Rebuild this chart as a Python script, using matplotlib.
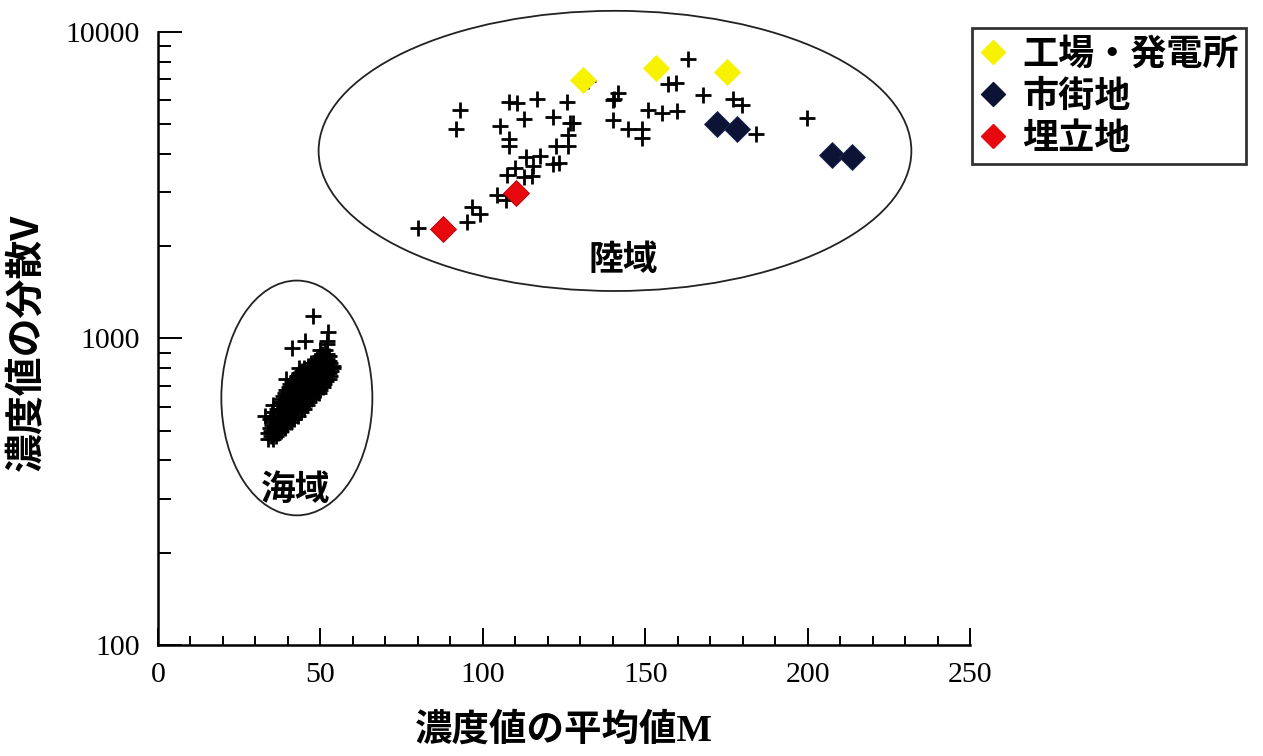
import numpy as np
import matplotlib
matplotlib.use("Agg")
import matplotlib.pyplot as plt
from matplotlib.patches import Ellipse
from matplotlib.lines import Line2D

plt.rcParams['font.family'] = ['Noto Sans CJK JP', 'DejaVu Sans']

# 陸域の点 (濃度値の平均値M, 分散V)
land_m = [92.9, 91.7, 108.0, 110.5, 116.6, 125.8, 105.2, 112.6, 121.5, 126.8,
          127.7, 108.0, 108.0, 126.2, 122.5, 126.2, 113.2, 117.5, 115.4, 121.5,
          123.4, 107.4, 109.8, 112.6, 115.1, 104.3, 107.1, 96.6, 99.1, 95.1,
          80.0, 140.0, 140.0, 163.1, 156.9, 159.4, 141.5, 140.3, 167.7, 176.9,
          179.7, 150.8, 155.1, 159.7, 144.6, 148.9, 148.9, 184.0, 199.7, 132.5]
land_v = [5570, 4830, 5910, 5870, 6050, 5910, 4940, 5200, 5280, 5050,
          5050, 4480, 4250, 4610, 4250, 4250, 3910, 3940, 3650, 3710,
          3740, 3410, 3600, 3360, 3390, 2940, 2830, 2690, 2550, 2400,
          2290, 6000, 5160, 8170, 6770, 6820, 6320, 6050, 6230, 6050,
          5780, 5570, 5440, 5530, 4830, 4830, 4510, 4650, 5240, 6900]

# 海域の点: 分散Vの段ごとに平均値Mを並べたもの
sea_rows_v = [470, 480, 490, 500, 510, 522, 535, 547, 560, 575,
              590, 605, 620, 635, 650, 665, 680, 695, 710, 725,
              740, 755, 770, 785, 800, 815, 830, 845, 860, 875,
              890, 920, 960, 1180, 1050, 985, 930, 985]
sea_rows_m = [[34, 35.5],
              [34.8, 36.2],
              [34, 35.5, 37],
              [34.8, 36.2, 37.8],
              [34.5, 36, 37.5, 39],
              [35.2, 36.8, 38.2, 39.8],
              [35, 36.5, 38, 39.5, 41],
              [34.5, 35.8, 37.2, 38.8, 40.2, 41.8],
              [33, 35.5, 37, 38.5, 40, 41.5, 43],
              [35.2, 36.8, 38.2, 39.8, 41.2, 42.8, 44],
              [36.5, 38, 39.5, 41, 42.5, 44, 45],
              [35.5, 37.2, 38.8, 40.2, 41.8, 43.2, 44.8, 46],
              [37.5, 39, 40.5, 42, 43.5, 45, 46.5],
              [38.2, 39.8, 41.2, 42.8, 44.2, 45.8, 47.2],
              [38.5, 40, 41.5, 43, 44.5, 46, 47.5],
              [39.2, 40.8, 42.2, 43.8, 45.2, 46.8, 48.2, 49.5],
              [39.5, 41, 42.5, 44, 45.5, 47, 48.5, 50],
              [40.2, 41.8, 43.2, 44.8, 46.2, 47.8, 49.2, 50.8],
              [40.5, 42, 43.5, 45, 46.5, 48, 49.5, 51],
              [41.2, 42.8, 44.2, 45.8, 47.2, 48.8, 50.2, 51.8],
              [39.5, 42, 43.5, 45, 46.5, 48, 49.5, 51, 52.5],
              [42.8, 44.2, 45.8, 47.2, 48.8, 50.2, 51.8, 53],
              [43.5, 45, 46.5, 48, 49.5, 51, 52.5],
              [44.2, 45.8, 47.2, 48.8, 50.2, 51.8, 53.2],
              [43.5, 45, 46.5, 48, 49.5, 51, 52.5, 54],
              [46.2, 47.8, 49.2, 50.8, 52.2, 53.8],
              [47, 48.5, 50, 51.5, 53],
              [48.2, 49.8, 51.2, 52.8],
              [49, 50.5, 52],
              [49.8, 51.2, 52.8],
              [50.5, 52],
              [50, 51.5],
              [52],
              [47.7], [52.3], [45.2], [41.2], [52.0]]
sea_m = [m for row in sea_rows_m for m in row]
sea_v = [v for v, row in zip(sea_rows_v, sea_rows_m) for m in row]

# 工場・発電所, 市街地, 埋立地
factory_m = [130.8, 153.2, 175.1]
factory_v = [6970, 7630, 7400]
urban_m = [172.0, 178.2, 207.4, 213.8]
urban_v = [5010, 4830, 3970, 3910]
landfill_m = [87.7, 110.2]
landfill_v = [2280, 2980]

legend_labels = ['工場・発電所', '市街地', '埋立地']
colors = ['#f7f200', '#0c1334', '#e8090f']

fig = plt.figure(figsize=(12.63, 7.56), dpi=100)
ax = fig.add_axes([0.1251, 0.1468, 0.6429, 0.8109])

plus_kw = dict(marker='+', linestyle='none', color='black', markersize=11, markeredgewidth=2.0)
ax.plot(land_m, land_v, **plus_kw)
ax.plot(sea_m, sea_v, **plus_kw)

dia_kw = dict(marker='D', linestyle='none', markersize=13.5, markeredgewidth=0.6)
ax.plot(factory_m, factory_v, color=colors[0], markeredgecolor=colors[0], **dia_kw)
ax.plot(urban_m, urban_v, color=colors[1], markeredgecolor='#1b2a55', **dia_kw)
ax.plot(landfill_m, landfill_v, color=colors[2], markeredgecolor='#b00008', **dia_kw)

ax.set_yscale('log')
ax.set_xlim(0, 250)
ax.set_ylim(100, 10000)
ax.set_xticks([0, 50, 100, 150, 200, 250])
ax.set_xticks(np.arange(0, 251, 10), minor=True)
ax.set_yticks([100, 1000, 10000])
ax.set_yticklabels(['100', '1000', '10000'])

for s in ['top', 'right']:
    ax.spines[s].set_visible(False)
for s in ['left', 'bottom']:
    ax.spines[s].set_linewidth(1.8)

ax.tick_params(axis='x', which='major', direction='in', length=12, width=1.4, pad=12)
ax.tick_params(axis='x', which='minor', direction='in', length=6.5, width=1.4)
ax.tick_params(axis='y', which='major', direction='in', length=17, width=1.4, pad=13)
ax.tick_params(axis='y', which='minor', direction='in', length=9.5, width=1.4)
ax.yaxis.set_minor_formatter(matplotlib.ticker.NullFormatter())
for lab in ax.get_xticklabels() + ax.get_yticklabels():
    lab.set_fontfamily('Liberation Serif')
    lab.set_fontsize(21.5)

lab_font = ['Liberation Serif', 'Noto Sans CJK JP']
ax.set_xlabel('濃度値の平均値M', family=lab_font, fontsize=27, fontweight='bold', labelpad=18)
ax.set_ylabel('濃度値の分散V', family=['Noto Sans CJK JP'], fontsize=28, fontweight='bold')
ax.yaxis.set_label_coords(-0.138, 0.493)

# 陸域・海域の楕円
ax.add_patch(Ellipse((0.5628, 0.806), 0.730, 0.457, transform=ax.transAxes,
                     fill=False, edgecolor='#222222', linewidth=1.3, clip_on=False))
ax.add_patch(Ellipse((0.171, 0.403), 0.186, 0.383, transform=ax.transAxes,
                     fill=False, edgecolor='#222222', linewidth=1.3, clip_on=False))
ax.text(0.5728, 0.629, '陸域', transform=ax.transAxes, fontsize=25, fontweight='bold',
        ha='center', va='center')
ax.text(0.170, 0.253, '海域', transform=ax.transAxes, fontsize=25, fontweight='bold',
        ha='center', va='center')

handles = [Line2D([], [], marker='D', linestyle='none', color=c, markeredgecolor=c,
                  markersize=12) for c in colors]
leg = fig.legend(handles, legend_labels, loc='upper left',
                 bbox_to_anchor=(972 / 1263, 1 - 28 / 756), frameon=True, fancybox=False,
                 prop={'family': 'Noto Sans CJK JP', 'weight': 'bold', 'size': 26},
                 handlelength=0.75, handletextpad=0.45, labelspacing=0.15,
                 borderpad=0.2, borderaxespad=0)
leg.get_frame().set_edgecolor('black')
leg.get_frame().set_linewidth(2)

fig.savefig('out.png', dpi=100)
